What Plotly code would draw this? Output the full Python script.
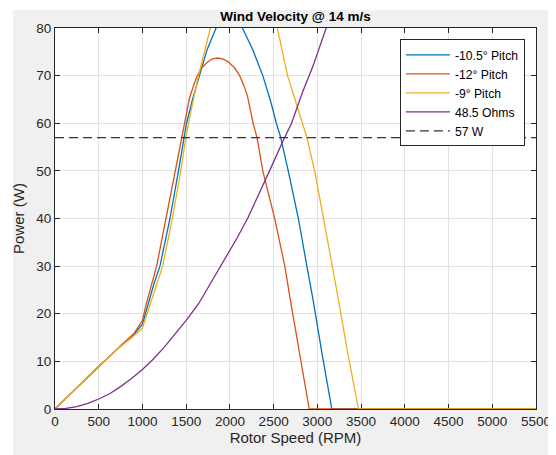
import plotly.graph_objects as go

# ---- data ----
rpm_12 = [0, 250, 500, 750, 900, 1000, 1040, 1100, 1162, 1269, 1373, 1450, 1477, 1538, 1590, 1628, 1680, 1750, 1800, 1865, 1930, 1980, 2050, 2112, 2160, 2200, 2265, 2310, 2376, 2445, 2512, 2570, 2628, 2690, 2800, 2907, 5500]
pow_12 = [0, 4.5, 9.0, 13.3, 15.8, 18.6, 21.8, 25.8, 30, 40, 50, 57, 60, 65.3, 68.2, 70, 71.7, 72.9, 73.5, 73.7, 73.4, 72.9, 71.7, 70, 67.9, 65.8, 60, 57, 50, 45, 40, 35, 30, 23, 11, 0, 0]

rpm_105 = [0, 250, 500, 750, 900, 1000, 1065, 1130, 1200, 1315, 1412, 1481, 1504, 1580, 1650, 1740, 1842, 2000, 2143, 2260, 2376, 2460, 2531, 2581, 2667, 2783, 2880, 2950, 3050, 3165, 5500]
pow_105 = [0, 4.5, 9.0, 13.2, 15.6, 17.8, 22.3, 26.2, 30, 40, 50, 57, 60, 65.5, 70, 75.5, 80, 82.2, 80, 75.5, 70, 65, 60, 57, 50, 40, 30, 23, 12, 0, 0]

rpm_9 = [0, 250, 500, 750, 900, 1000, 1096, 1160, 1231, 1342, 1438, 1496, 1527, 1640, 1769, 1900, 2160, 2400, 2543, 2600, 2659, 2745, 2829, 2880, 2969, 3074, 3171, 3240, 3350, 3470, 5500]
pow_9 = [0, 4.5, 9.0, 13.1, 15.3, 17.0, 22.3, 26.0, 30, 40, 50, 57, 60, 70, 80, 89, 96, 90, 80, 75, 70, 65, 60, 57, 50, 40, 30, 23, 11.5, 0, 0]

rpm_ohm = [0, 125, 250, 375, 500, 625, 750, 875, 1000, 1125, 1250, 1375, 1500, 1642, 1750, 1900, 2085, 2202, 2330, 2453, 2600, 2705, 2830, 2950, 3101, 3300]
pow_ohm = [0, 0.13, 0.5, 1.2, 2.1, 3.2, 4.7, 6.4, 8.3, 10.5, 13.0, 15.7, 18.6, 22.1, 25.5, 30, 36, 40, 45, 50, 56, 60, 66.5, 72, 80, 90]

rpm_ref = [0, 5500]
pow_ref = [57, 57]

x_ticks = list(range(0, 5501, 500))
y_ticks = list(range(0, 81, 10))

labels = ["-10.5° Pitch", "-12° Pitch", "-9° Pitch", "48.5 Ohms", "57 W"]
colors = ["#0072BD", "#D95319", "#EDB120", "#7E2F8E", "#333333"]

fig = go.Figure()
series = [(rpm_105, pow_105), (rpm_12, pow_12), (rpm_9, pow_9), (rpm_ohm, pow_ohm)]
for (xs, ys), name, c in zip(series, labels[:4], colors[:4]):
    fig.add_trace(go.Scatter(x=xs, y=ys, mode="lines", name=name,
                             line=dict(color=c, width=1.3)))
fig.add_trace(go.Scatter(x=rpm_ref, y=pow_ref, mode="lines", name=labels[4],
                         line=dict(color=colors[4], width=1.3, dash="9px,5px")))

FONT = "Liberation Sans, Arial, sans-serif"
axis_common = dict(showline=True, linecolor="#262626", linewidth=1, mirror="ticks",
                   ticks="inside", ticklen=5, tickcolor="#262626",
                   showgrid=True, gridcolor="#e1e1e1", gridwidth=1, zeroline=False,
                   tickfont=dict(family=FONT, size=13.5, color="#262626"),
                   layer="below traces", automargin=False)

# the page body adds an 8px offset; the figure is sized to fill the rest
W, H = 548, 447
ML, MR, MT, MB = 47, 20, 20, 46
PW, PH = W - ML - MR, H - MT - MB

fig.update_layout(
    width=W, height=H,
    margin=dict(l=ML, r=MR, t=MT, b=MB),
    paper_bgcolor="#f0f0f0", plot_bgcolor="white",
    title=dict(text="<b>Wind Velocity @ 14 m/s</b>", x=(ML + PW / 2) / W, xanchor="center",
               y=1 - 8 / H, yanchor="middle", yref="container", automargin=False,
               font=dict(family=FONT, size=13.5, color="#000000")),
    xaxis=dict(range=[0, 5500], tickvals=x_ticks,
               title=dict(text="Rotor Speed (RPM)", standoff=4,
                          font=dict(family=FONT, size=15, color="#262626")),
               **axis_common),
    yaxis=dict(range=[0, 80], tickvals=y_ticks,
               title=dict(text="Power (W)", standoff=8,
                          font=dict(family=FONT, size=15, color="#262626")),
               **axis_common),
    legend=dict(x=0.717, y=0.97, xanchor="left", yanchor="top",
                bgcolor="white", bordercolor="#262626", borderwidth=1,
                font=dict(family=FONT, size=12.2, color="#000000"),
                tracegroupgap=0, itemwidth=44),
    showlegend=True,
    shapes=[
        dict(type="rect", xref="paper", yref="paper", x0=-0.2, x1=(5 - ML) / PW,
             y0=-0.2, y1=1.3, fillcolor="white", line=dict(width=0), layer="above"),
        dict(type="rect", xref="paper", yref="paper", x0=-0.2, x1=1.2,
             y0=(PH + MT - 2) / PH, y1=1.3, fillcolor="white", line=dict(width=0), layer="above"),
    ],
)

fig.write_html("out.html")
